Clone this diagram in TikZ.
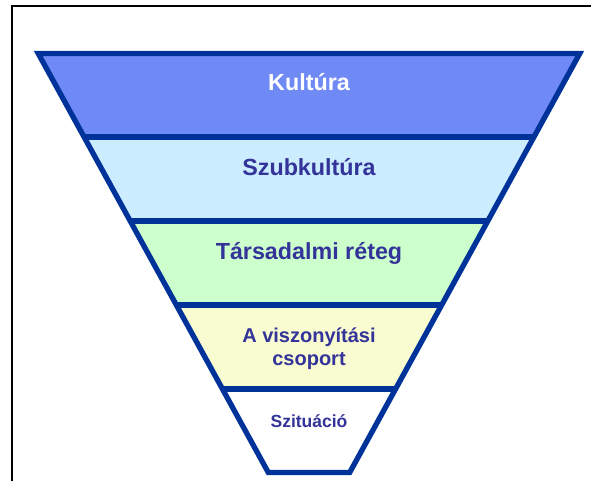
\documentclass[tikz,border=0pt]{standalone}
\usepackage{fontspec}
\setmainfont{Liberation Sans}
\definecolor{kultfill}{HTML}{6F89F5}
\definecolor{szubfill}{HTML}{CCECFF}
\definecolor{tarsfill}{HTML}{CCFFCC}
\definecolor{viszfill}{HTML}{F8FCD0}
\definecolor{edgeblue}{HTML}{003399}
\definecolor{txtblue}{HTML}{333399}
\tikzset{
  edge/.style={draw=edgeblue, line width=5.3pt, line join=miter},
  lbl/.style={anchor=base, inner sep=0pt, text=txtblue, align=center},
  bigfont/.style={font=\fontsize{23.3}{27}\selectfont\bfseries},
  midfont/.style={font=\fontsize{20}{24}\selectfont\bfseries},
  smallfont/.style={font=\fontsize{17.5}{21}\selectfont\bfseries}
}
\begin{document}
\begin{tikzpicture}[x=1pt,y=-1pt]
\useasboundingbox (0,0) rectangle (591,480);
\begin{scope}
  \clip (0,0) rectangle (591,480);
  \draw[black, line width=2pt] (12,5.8) rectangle (700,600);
\end{scope}
% funnel level coordinates
\coordinate (L0) at (38.2,53.4);  \coordinate (R0) at (579.8,53.4);
\coordinate (L1) at (84.1,137);   \coordinate (R1) at (533.9,137);
\coordinate (L2) at (130.2,221);  \coordinate (R2) at (487.8,221);
\coordinate (L3) at (176.3,305);  \coordinate (R3) at (441.7,305);
\coordinate (L4) at (222.4,389);  \coordinate (R4) at (395.6,389);
\coordinate (L5) at (268.3,472.5);\coordinate (R5) at (349.7,472.5);
% band fills
\fill[kultfill] (L0)--(R0)--(R1)--(L1)--cycle;
\fill[szubfill] (L1)--(R1)--(R2)--(L2)--cycle;
\fill[tarsfill] (L2)--(R2)--(R3)--(L3)--cycle;
\fill[viszfill] (L3)--(R3)--(R4)--(L4)--cycle;
\fill[white] (L4)--(R4)--(R5)--(L5)--cycle;
% outline and dividers
\draw[edge] (L0)--(R0)--(R5)--(L5)--cycle;
\draw[edge] (L1)--(R1);
\draw[edge] (L2)--(R2);
\draw[edge] (L3)--(R3);
\draw[edge] (L4)--(R4);
% labels
\node[lbl, bigfont, text=white] (kult) at (309,90.7) {Kultúra};
\node[lbl, bigfont] (szub) at (309,175) {Szubkultúra};
\node[lbl, bigfont] (tars) at (309,259.3) {Társadalmi réteg};
\node[lbl, midfont] (visz1) at (309,342.7) {A viszonyítási};
\node[lbl, midfont] (visz2) at (309,365) {csoport};
\node[lbl, smallfont] (szit) at (309,427.3) {Szituáció};
\end{tikzpicture}
\end{document}
